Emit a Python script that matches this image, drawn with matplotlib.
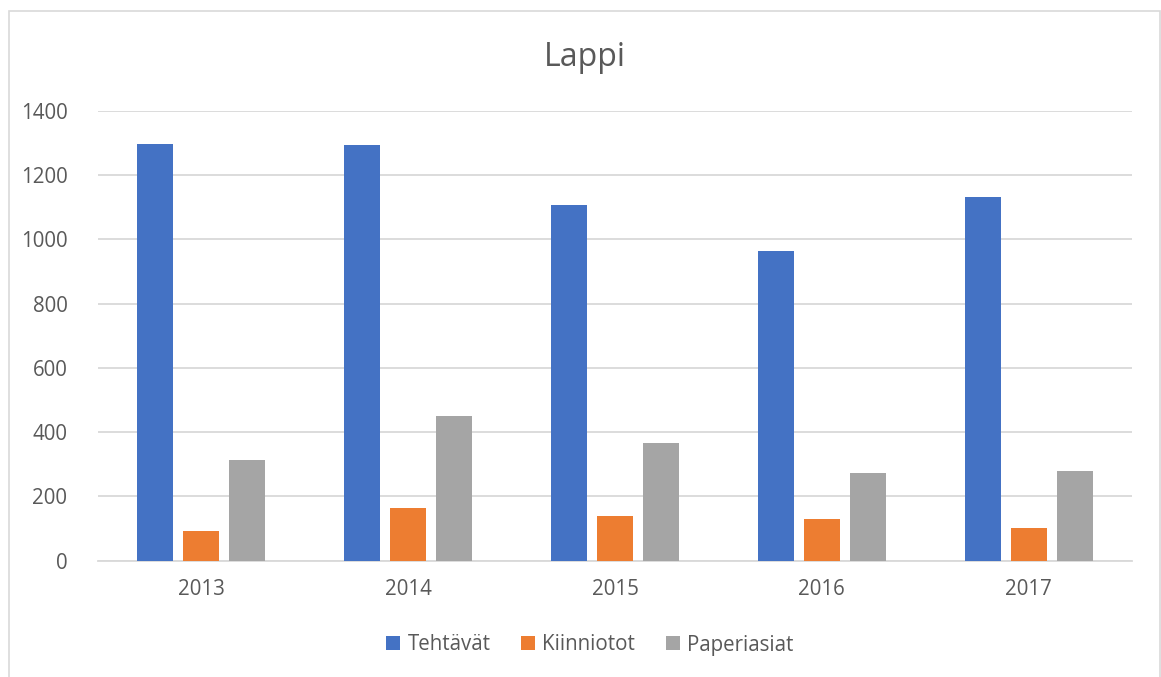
import matplotlib.pyplot as plt
import numpy as np
from matplotlib.patches import Rectangle

years = ["2013", "2014", "2015", "2016", "2017"]
tehtavat = [1296, 1293, 1106, 963, 1131]
kiinniotot = [93, 164, 139, 131, 101]
paperiasiat = [313, 449, 365, 274, 278]

series = [
    ("Tehtävät", tehtavat, "#4472C4"),
    ("Kiinniotot", kiinniotot, "#ED7D31"),
    ("Paperiasiat", paperiasiat, "#A5A5A5"),
]

W, H = 1161, 677
text_color = "#595959"
grid_color = "#D9D9D9"
plt.rcParams["font.family"] = ["Open Sans", "DejaVu Sans"]

fig = plt.figure(figsize=(W / 100, H / 100), dpi=100)

# chart area outline (left, top, right only visible)
fig.add_artist(Rectangle((9 / W, -0.01), (1160 - 9) / W, (H - 11) / H + 0.01,
                         transform=fig.transFigure, fill=False,
                         edgecolor=grid_color, linewidth=1.2))

left, right, top, bottom = 98, 1132, 110.7, 560.7
ax = fig.add_axes([left / W, (H - bottom) / H, (right - left) / W, (bottom - top) / H])

x = np.arange(len(years))
bar_w = 0.174
step = 0.2225
for i, (name, vals, color) in enumerate(series):
    ax.bar(x + (i - 1) * step, vals, width=bar_w, color=color, label=name, zorder=3)

ax.set_xlim(-0.5, len(years) - 0.5)
ax.set_ylim(0, 1400)
ax.set_yticks(range(0, 1401, 200))
ax.set_xticks(x)
ax.set_xticklabels(years)
ax.grid(axis="y", color=grid_color, linewidth=1.3, zorder=0)
ax.tick_params(axis="both", length=0, labelsize=14.8, colors=text_color)
ax.tick_params(axis="y", pad=22)
ax.tick_params(axis="x", pad=13)
for side in ["top", "right", "left"]:
    ax.spines[side].set_visible(False)
ax.spines["bottom"].set_color(grid_color)
ax.spines["bottom"].set_linewidth(1.3)

fig.text(585 / W, 1 - 57 / H, "Lappi", ha="center", va="center",
         fontsize=23, color=text_color)

handles, labels = ax.get_legend_handles_labels()
fig.legend(handles, labels, loc="center", bbox_to_anchor=(590 / W, 1 - 645 / H),
           ncol=3, frameon=False, fontsize=14.8, labelcolor=text_color,
           handlelength=0.68, handleheight=0.68, handletextpad=0.35,
           columnspacing=1.5)

fig.savefig("out.png", dpi=100)
